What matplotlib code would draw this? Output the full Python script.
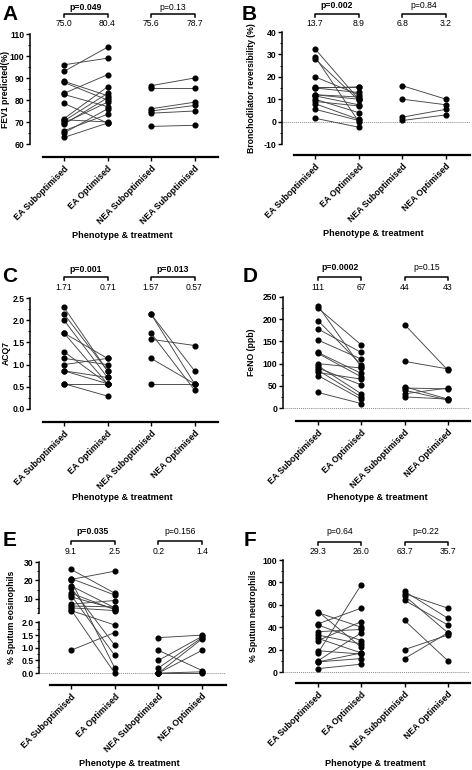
import numpy as np
import matplotlib
matplotlib.use('Agg')
import matplotlib.pyplot as plt
from matplotlib import transforms

W, H = 472, 770
plt.rcParams['font.family'] = ['Liberation Sans', 'DejaVu Sans']

categories = ["EA Suboptimised", "EA Optimised", "NEA Suboptimised", "NEA Optimised"]
categories_A = ["EA Suboptimised", "EA Optimised", "NEA Suboptimised", "NEA Suboptimised"]

# ---- Panel A: FEV1 predicted (%)
A_ea_pre = [96, 93, 88.5, 88, 83, 82.5, 78.5, 71.5, 70.5, 69.5, 69, 66, 65, 63, 71]
A_ea_post = [99, 104, 82, 80, 91.5, 77, 69.5, 86, 83, 79, 81, 73.5, 76, 69.5, 70]
A_nea_pre = [86.5, 85.5, 76, 75, 74, 68]
A_nea_post = [90, 85.5, 79, 77.5, 75, 68.5]
A_medians = ["75.0", "80.4", "75.6", "78.7"]
A_p = ["p=0.049", "p=0.13"]

# ---- Panel B: Bronchodilator reversibility (%)
B_ea_pre = [32.5, 29, 28, 20, 15.5, 15, 12, 11.5, 10, 9, 8, 5.5, 1.5, 15, 12]
B_ea_post = [10, 0, 9.5, 12, 15.5, 15.5, 11, 7.5, 4, 7, 1, 0.5, -2.5, 13, 10]
B_nea_pre = [16, 10, 2, 0.5]
B_nea_post = [10, 7.5, 5.5, 3]
B_medians = ["13.7", "8.9", "6.8", "3.2"]
B_p = ["p=0.002", "p=0.84"]

# ---- Panel C: ACQ7
C_ea_pre = [2.29, 2.14, 2.0, 1.71, 1.71, 1.29, 1.14, 1.0, 0.86, 0.86, 0.57, 0.57]
C_ea_post = [0.86, 0.86, 0.71, 0.57, 1.14, 0.57, 1.0, 1.14, 0.57, 0.71, 0.57, 0.29]
C_nea_pre = [2.14, 2.14, 1.71, 1.57, 1.14, 0.57]
C_nea_post = [0.57, 0.86, 0.43, 1.43, 0.57, 0.57]
C_medians = ["1.71", "0.71", "1.57", "0.57"]
C_p = ["p=0.001", "p=0.013"]

# ---- Panel D: FeNO (ppb)
D_ea_pre = [230, 225, 197, 178, 153, 125, 123, 100, 95, 90, 85, 80, 73, 35]
D_ea_post = [92, 142, 97, 125, 110, 78, 70, 90, 32, 52, 25, 65, 20, 10]
D_nea_pre = [188, 105, 48, 45, 40, 32, 25]
D_nea_post = [85, 88, 20, 43, 18, 45, 20]
D_medians = ["111", "67", "44", "43"]
D_p = ["p=0.0002", "p=0.15"]

# ---- Panel E: % Sputum eosinophils (broken axis)
E_ea_pre = [26, 21, 20.5, 17, 13, 11, 7, 6, 5, 4, 3.5, 20, 16, 12, 0.9]
E_ea_post = [13, 12, 25, 5, 4, 4.5, 9, 5.5, 3.5, 0.0, 1.9, 0.2, 1.1, 0.7, 1.6]
E_nea_pre = [1.4, 0.9, 0.5, 0.2, 0.0, 0.0, 0.0, 0.0]
E_nea_post = [1.5, 0.1, 1.45, 1.4, 0.9, 1.35, 0.0, 0.05]
E_medians = ["9.1", "2.5", "0.2", "1.4"]
E_p = ["p=0.035", "p=0.156"]

# ---- Panel F: % Sputum neutrophils
F_ea_pre = [54, 53, 43, 42, 36, 33, 30, 28, 19, 17, 10, 9, 3, 9]
F_ea_post = [22, 40, 57, 28, 38, 25, 17, 45, 16, 78, 35, 12, 7, 17]
F_nea_pre = [72, 70, 68, 64, 46, 20, 12]
F_nea_post = [48, 57, 35, 42, 10, 33, 35]
F_medians = ["29.3", "26.0", "63.7", "35.7"]
F_p = ["p=0.64", "p=0.22"]

fig = plt.figure(figsize=(W / 100, H / 100), dpi=100)


def px_box(l, t, r, b):
    return [l / W, 1 - b / H, (r - l) / W, (b - t) / H]


def fy(py):
    return 1 - py / H


# broken-axis transform for panel E (units of lower segment)
GAP = 0.36
KUP = 0.0723


def e_fwd(y):
    y = np.asarray(y, dtype=float)
    return np.where(y <= 2, y, 2 + GAP + (y - 2) * KUP)


def e_inv(u):
    u = np.asarray(u, dtype=float)
    return np.where(u <= 2, u, np.where(u < 2 + GAP, 2, 2 + (u - 2 - GAP) / KUP))


def panel(spec, ea_pre, ea_post, nea_pre, nea_post, medians, pvals, pbold, labels,
          letter, ylabel, yticks, yticklabels, ybounds, zero=False, broken=False):
    ax = fig.add_axes(px_box(spec['yax'], spec['top'], spec['right'], spec['xax']))
    c0, cs = spec['c0'], spec['cs']
    ax.set_xlim((spec['yax'] - c0) / cs, (spec['right'] - c0) / cs)
    if broken:
        ax.set_yscale('function', functions=(e_fwd, e_inv))
        ax.set_ylim(spec['ylim'])
    else:
        (v1, p1), (v2, p2) = spec['ycal']
        k = (p2 - p1) / (v1 - v2)
        ax.set_ylim(v1 - (spec['xax'] - p1) / k, v1 + (p1 - spec['top']) / k)

    if zero:
        ax.axhline(0, color='#8a8a8a', ls=(0, (1, 1)), lw=0.7, zorder=1)

    for xs, pre, post in ((0, ea_pre, ea_post), (2, nea_pre, nea_post)):
        for a, b in zip(pre, post):
            ax.plot([xs, xs + 1], [a, b], color='#444444', lw=0.65, zorder=2, clip_on=False)
        ax.plot(np.full(len(pre), xs), pre, 'o', color='black', ms=3.4, zorder=3, clip_on=False)
        ax.plot(np.full(len(post), xs + 1), post, 'o', color='black', ms=3.4, zorder=3, clip_on=False)

    for s in ('top', 'right'):
        ax.spines[s].set_visible(False)
    ax.spines['bottom'].set_linewidth(1.6)
    ax.spines['bottom'].set_bounds((spec['xstart'] - c0) / cs, (spec['right'] - c0) / cs)
    if broken:
        ax.spines['left'].set_visible(False)
        tr = transforms.blended_transform_factory(ax.transAxes, ax.transData)
        ax.plot([0, 0], [0, 2], color='black', lw=1.1, transform=tr, clip_on=False)
        ax.plot([0, 0], [2.0001, 30], color='black', lw=1.1, transform=tr, clip_on=False)
    else:
        ax.spines['left'].set_linewidth(1.1)
        ax.spines['left'].set_bounds(*ybounds)

    ax.set_yticks(yticks)
    ax.set_yticklabels(yticklabels, fontsize=6.2, fontweight='bold')
    if not broken:
        step = (yticks[1] - yticks[0]) / 2
        ax.set_yticks([t + step for t in yticks[:-1]], minor=True)
    else:
        ax.set_yticks([0.25, 0.75, 1.25, 1.75, 2.01, 5, 15, 25], minor=True)
    ax.tick_params(axis='y', which='major', length=3, width=1, pad=1)
    ax.tick_params(axis='y', which='minor', length=1.8, width=0.8)
    ax.set_xticks(range(4))
    ax.set_xticklabels(labels, rotation=45, ha='right', va='top', rotation_mode='anchor',
                       fontsize=6.3, fontweight='bold')
    ax.tick_params(axis='x', length=3, width=1, pad=2)

    trb = transforms.blended_transform_factory(ax.transData, fig.transFigure)
    for i, g in enumerate((0, 2)):
        ax.plot([g, g, g + 1, g + 1], [fy(spec['br'] + 3), fy(spec['br']), fy(spec['br']), fy(spec['br'] + 3)],
                color='black', lw=1.1, transform=trb, clip_on=False)
        ax.text(g + 0.5, fy(spec['p']), pvals[i], transform=trb, ha='center', va='center',
                fontsize=6.2, fontweight='bold' if pbold[i] else 'normal')
    for j in range(4):
        ax.text(j, fy(spec['num']), medians[j], transform=trb, ha='center', va='center', fontsize=6.2)

    fig.text(spec['letter'][0] / W, fy(spec['letter'][1]), letter, fontsize=15, fontweight='bold',
             ha='center', va='center')
    fig.text(spec['ylab'][0] / W, fy(spec['ylab'][1]), ylabel, rotation=90, fontsize=6.2,
             fontweight='bold', ha='center', va='center')
    fig.text(spec['xlab'][0] / W, fy(spec['xlab'][1]), "Phenotype & treatment", fontsize=6.6,
             fontweight='bold', ha='center', va='center')
    return ax


specA = dict(yax=30, top=30, right=218, xax=157, c0=64, cs=43.5, ycal=((110, 34), (60, 144)),
             xstart=43, p=7, br=14, num=24, letter=(10, 14), ylab=(6, 89), xlab=(122, 236))
specB = dict(yax=282, top=28, right=470, xax=155, c0=315, cs=43.7, ycal=((40, 32), (-10, 144)),
             xstart=294, p=6, br=14, num=23, letter=(249, 14), ylab=(252, 88), xlab=(373, 234))
specC = dict(yax=30, top=294, right=218, xax=422, c0=64, cs=43.5, ycal=((2.5, 298), (0, 409)),
             xstart=43, p=270, br=277, num=288, letter=(10, 277), ylab=(6, 353), xlab=(122, 498))
specD = dict(yax=283, top=293, right=470, xax=421, c0=318, cs=43.3, ycal=((250, 297), (0, 408)),
             xstart=296, p=268, br=277, num=287, letter=(250, 277), ylab=(252, 352), xlab=(377, 498))
specE = dict(yax=39, top=556, right=226, xax=685, c0=71, cs=43.7, ylim=(-0.47, 33.3),
             xstart=50, p=532, br=541, num=551, letter=(10, 540), ylab=(12, 617), xlab=(129, 763))
specF = dict(yax=283, top=556, right=470, xax=683, c0=318, cs=43.3, ycal=((100, 560), (0, 672)),
             xstart=296, p=532, br=542, num=551, letter=(250, 540), ylab=(253, 616), xlab=(375, 764))

panel(specA, A_ea_pre, A_ea_post, A_nea_pre, A_nea_post, A_medians, A_p, (True, False),
      categories_A, "A", "FEV1 predicted(%)", [60, 70, 80, 90, 100, 110],
      ["60", "70", "80", "90", "100", "110"], (60, 110))
panel(specB, B_ea_pre, B_ea_post, B_nea_pre, B_nea_post, B_medians, B_p, (True, False),
      categories, "B", "Bronchodilator reversibility (%)", [-10, 0, 10, 20, 30, 40],
      ["-10", "0", "10", "20", "30", "40"], (-10, 40), zero=True)
panel(specC, C_ea_pre, C_ea_post, C_nea_pre, C_nea_post, C_medians, C_p, (True, True),
      categories, "C", "ACQ7", [0, 0.5, 1.0, 1.5, 2.0, 2.5],
      ["0.0", "0.5", "1.0", "1.5", "2.0", "2.5"], (0, 2.5))
panel(specD, D_ea_pre, D_ea_post, D_nea_pre, D_nea_post, D_medians, D_p, (True, False),
      categories, "D", "FeNO (ppb)", [0, 50, 100, 150, 200, 250],
      ["0", "50", "100", "150", "200", "250"], (0, 250), zero=True)
panel(specE, E_ea_pre, E_ea_post, E_nea_pre, E_nea_post, E_medians, E_p, (True, False),
      categories, "E", "% Sputum eosinophils", [0, 0.5, 1.0, 1.5, 2.0, 10, 20, 30],
      ["0.0", "0.5", "1.0", "1.5", "2.0", "10", "20", "30"], None, zero=True, broken=True)
panel(specF, F_ea_pre, F_ea_post, F_nea_pre, F_nea_post, F_medians, F_p, (False, False),
      categories, "F", "% Sputum neutrophils", [0, 20, 40, 60, 80, 100],
      ["0", "20", "40", "60", "80", "100"], (0, 100), zero=True)

fig.savefig("out.png", dpi=100)
